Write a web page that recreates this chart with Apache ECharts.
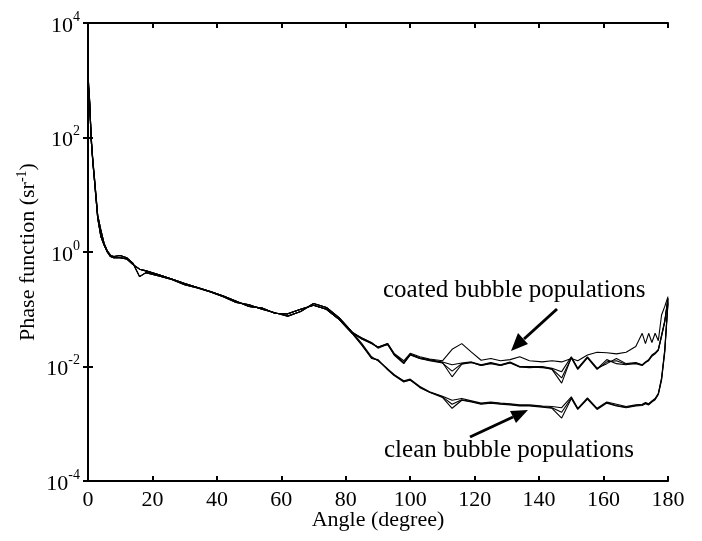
<!DOCTYPE html>
<html>
<head>
<meta charset="utf-8">
<script src="https://cdn.jsdelivr.net/npm/echarts@6/dist/echarts.min.js"></script>
<style>
  html, body { margin: 0; padding: 0; background: #fff; }
  #chart { width: 702px; height: 541px; }
</style>
</head>
<body>
<div id="chart"></div>
<script>
// angles (degree) shared by all curves up to the split near 82 deg
const prefixAngles = [0, 0.5, 1, 1.5, 2, 3, 4, 5, 6, 7, 8, 10, 12, 14, 16, 18, 22, 26, 30, 34, 38, 42, 46, 50, 54, 58, 62, 66, 70, 74, 78, 82]
// values are read as log10 of the phase function
const prefixLogA = [3.0, 2.6, 1.95, 1.57, 1.25, 0.6, 0.27, 0.12, 0.0, -0.08, -0.1, -0.1, -0.12, -0.22, -0.3, -0.33, -0.4, -0.47, -0.55, -0.62, -0.69, -0.77, -0.86, -0.95, -0.98, -1.07, -1.08, -1.0, -0.93, -1.0, -1.18, -1.42]
const prefixLogB = [3.1, 2.65, 2.0, 1.6, 1.3, 0.65, 0.38, 0.15, 0.02, -0.06, -0.08, -0.06, -0.1, -0.2, -0.43, -0.36, -0.42, -0.48, -0.57, -0.63, -0.7, -0.78, -0.88, -0.92, -1.0, -1.06, -1.12, -1.04, -0.9, -0.97, -1.15, -1.4]

// angles after the split
const suffixAngles = [85, 88, 90, 93, 95, 98, 100, 103, 106, 110, 113, 116, 119, 122, 125, 128, 131, 134, 137, 141, 144, 147, 150, 152, 155, 158, 161, 164, 167, 170, 172, 173, 174, 175, 176, 177, 178, 179, 180]

// coated bubble populations
const coatedMainLog = [-1.5, -1.58, -1.67, -1.6, -1.78, -1.93, -1.78, -1.85, -1.88, -1.92, -1.97, -1.94, -1.92, -1.97, -1.93, -1.97, -1.92, -2.0, -2.0, -2.0, -2.03, -2.09, -1.83, -2.03, -1.83, -2.03, -1.95, -1.86, -1.95, -1.93, -1.97, -1.92, -1.88, -1.8, -1.76, -1.7, -1.45, -1.2, -0.8]
const coatedThinLog = [-1.52, -1.6, -1.66, -1.6, -1.77, -1.9, -1.77, -1.83, -1.87, -1.9, -1.7, -1.6, -1.75, -1.89, -1.86, -1.9, -1.88, -1.83, -1.9, -1.92, -1.9, -1.92, -1.86, -1.9, -1.8, -1.75, -1.76, -1.78, -1.75, -1.65, -1.42, -1.6, -1.42, -1.58, -1.42, -1.55, -1.1, -0.95, -0.78]
const coatedDip1Log = [-1.52, -1.6, -1.66, -1.62, -1.79, -1.94, -1.8, -1.86, -1.9, -1.94, -2.08, -1.95, -1.93, -1.98, -1.95, -1.98, -1.94, -2.01, -2.01, -2.02, -2.04, -2.2, -1.85, -2.05, -1.85, -2.05, -1.92, -1.9, -1.96, -1.95, -1.98, -1.93, -1.9, -1.82, -1.78, -1.72, -1.48, -1.22, -0.82]
const coatedDip2Log = [-1.5, -1.59, -1.68, -1.61, -1.8, -1.95, -1.79, -1.86, -1.89, -1.93, -2.18, -1.96, -1.93, -1.98, -1.94, -1.98, -1.93, -2.01, -2.02, -2.01, -2.05, -2.29, -1.84, -2.04, -1.84, -2.04, -1.88, -1.95, -1.97, -1.94, -1.98, -1.93, -1.89, -1.81, -1.77, -1.71, -1.46, -1.21, -0.81]

// clean bubble populations
const cleanMainLog = [-1.62, -1.85, -1.89, -2.05, -2.15, -2.25, -2.22, -2.35, -2.44, -2.52, -2.59, -2.56, -2.6, -2.64, -2.62, -2.64, -2.65, -2.67, -2.67, -2.69, -2.7, -2.72, -2.53, -2.73, -2.55, -2.73, -2.62, -2.66, -2.7, -2.67, -2.66, -2.63, -2.65, -2.6, -2.56, -2.47, -2.2, -1.7, -0.85]
const cleanDip1Log = [-1.6, -1.83, -1.9, -2.04, -2.14, -2.26, -2.24, -2.36, -2.45, -2.53, -2.66, -2.58, -2.61, -2.65, -2.63, -2.65, -2.66, -2.68, -2.68, -2.7, -2.72, -2.8, -2.55, -2.74, -2.56, -2.74, -2.63, -2.68, -2.71, -2.68, -2.67, -2.64, -2.66, -2.61, -2.57, -2.48, -2.22, -1.72, -0.87]
const cleanDip2Log = [-1.63, -1.86, -1.88, -2.06, -2.16, -2.27, -2.23, -2.37, -2.45, -2.54, -2.73, -2.59, -2.62, -2.66, -2.64, -2.66, -2.67, -2.69, -2.69, -2.71, -2.73, -2.9, -2.56, -2.75, -2.57, -2.75, -2.64, -2.69, -2.72, -2.69, -2.68, -2.65, -2.67, -2.62, -2.58, -2.49, -2.24, -1.75, -0.9]

const xTicks = [0, 20, 40, 60, 80, 100, 120, 140, 160, 180]

const curves = [
  [prefixLogA, coatedMainLog],
  [prefixLogB, coatedThinLog],
  [prefixLogA, coatedDip1Log],
  [prefixLogB, coatedDip2Log],
  [prefixLogA, cleanMainLog],
  [prefixLogB, cleanDip1Log],
  [prefixLogA, cleanDip2Log]
]

const font = 'Liberation Serif'

function toPoints(prefix, suffix) {
  const pts = []
  prefixAngles.forEach((a, i) => pts.push([a, Math.pow(10, prefix[i])]))
  suffixAngles.forEach((a, i) => pts.push([a, Math.pow(10, suffix[i])]))
  return pts
}

const axisLineStyle = { lineStyle: { color: '#000', width: 2 } }
const tickStyle = { show: true, inside: true, length: 5, lineStyle: { color: '#000', width: 2 } }

var myChart = echarts.init(document.getElementById('chart'))
var option = {
  animation: false,
  backgroundColor: '#fff',
  grid: { left: 88, right: 34, top: 23, bottom: 60 },
  xAxis: [
    {
      type: 'value',
      min: xTicks[0],
      max: xTicks[xTicks.length - 1],
      interval: 20,
      name: 'Angle (degree)',
      nameLocation: 'middle',
      nameGap: 28,
      nameMoveOverlap: false,
      nameTextStyle: { fontFamily: font, fontSize: 22, color: '#000' },
      axisLine: axisLineStyle,
      axisTick: tickStyle,
      splitLine: { show: false },
      axisLabel: { fontFamily: font, fontSize: 22, color: '#000', margin: 8 }
    },
    {
      type: 'value',
      position: 'top',
      min: xTicks[0],
      max: xTicks[xTicks.length - 1],
      interval: 20,
      axisLine: axisLineStyle,
      axisTick: tickStyle,
      splitLine: { show: false },
      axisLabel: { show: false }
    }
  ],
  yAxis: [
    {
      type: 'log',
      logBase: 100,
      min: 1e-4,
      max: 1e4,
      name: 'Phase function (sr{s|-1})',
      nameLocation: 'middle',
      nameGap: 47,
      nameMoveOverlap: false,
      nameTextStyle: {
        fontFamily: font,
        fontSize: 22,
        color: '#000',
        rich: { s: { fontFamily: font, fontSize: 14, color: '#000', padding: [0, 0, 12, 0] } }
      },
      axisLine: axisLineStyle,
      axisTick: tickStyle,
      splitLine: { show: false },
      axisLabel: {
        margin: 8,
        formatter: function (v) {
          return '{b|10}{s|' + Math.round(Math.log10(v)) + '}'
        },
        rich: {
          b: { fontFamily: font, fontSize: 22, color: '#000', padding: [6, 0, 0, 0] },
          s: { fontFamily: font, fontSize: 14, color: '#000', padding: [0, 0, 12, 0] }
        }
      }
    },
    {
      type: 'log',
      logBase: 100,
      min: 1e-4,
      max: 1e4,
      position: 'right',
      axisLine: axisLineStyle,
      axisTick: tickStyle,
      splitLine: { show: false },
      axisLabel: { show: false }
    }
  ],
  series: curves.map((c) => ({
    type: 'line',
    data: toPoints(c[0], c[1]),
    showSymbol: false,
    symbol: 'none',
    lineStyle: { color: '#000', width: 1.1 },
    silent: true
  })),
  graphic: [
    {
      type: 'text',
      left: 383,
      top: 278,
      style: { text: 'coated bubble populations', fontFamily: font, fontSize: 25, fill: '#000' }
    },
    {
      type: 'text',
      left: 384,
      top: 438,
      style: { text: 'clean bubble populations', fontFamily: font, fontSize: 25, fill: '#000' }
    },
    {
      type: 'line',
      shape: { x1: 557, y1: 309, x2: 524, y2: 339 },
      style: { stroke: '#000', lineWidth: 3 }
    },
    {
      type: 'polygon',
      shape: { points: [[511, 351], [528, 344], [518, 333]] },
      style: { fill: '#000' }
    },
    {
      type: 'line',
      shape: { x1: 470, y1: 437, x2: 513, y2: 417 },
      style: { stroke: '#000', lineWidth: 3 }
    },
    {
      type: 'polygon',
      shape: { points: [[528, 410], [516, 423], [510, 411]] },
      style: { fill: '#000' }
    }
  ]
}
option && myChart.setOption(option)
</script>
</body>
</html>
